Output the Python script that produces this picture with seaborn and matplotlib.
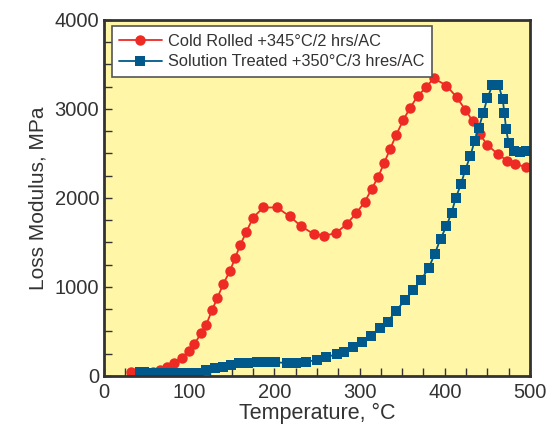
import seaborn as sns
import matplotlib.pyplot as plt
import pandas as pd
from matplotlib.ticker import MultipleLocator

# Cold Rolled +345°C/2 hrs/AC
cold_temp = [32, 41, 50, 58, 66, 74, 82, 91, 100, 106, 114, 120, 127, 133, 140, 148, 154, 160,
             167, 175, 187, 203, 218, 231, 246, 258, 272, 285, 296, 306, 314, 322, 329, 336,
             343, 351, 359, 368, 378, 387, 402, 414, 424, 433, 441, 450, 462, 473, 482, 495]
cold_loss = [40, 35, 25, 40, 65, 97, 144, 207, 285, 360, 478, 575, 745, 874, 1035, 1182, 1330, 1472,
             1618, 1779, 1893, 1893, 1794, 1685, 1595, 1577, 1603, 1708, 1828, 1955, 2097, 2240, 2397, 2553,
             2708, 2870, 3007, 3142, 3243, 3345, 3262, 3131, 2992, 2860, 2715, 2596, 2494, 2419, 2378, 2351]

# Solution Treated +350°C/3 hres/AC
sol_temp = [42, 47, 52, 57, 62, 67, 72, 77, 82, 87, 92, 97, 102, 107, 112,
            120, 130, 140, 149, 159, 169, 180, 191, 201, 215, 225, 237, 250, 261, 273,
            282, 292, 303, 313, 324, 333, 343, 353, 363, 372, 381, 388, 395, 402, 408,
            413, 419, 424, 430, 435, 440, 445, 450, 456, 463, 468, 470, 472, 475, 481, 488, 495]
sol_loss = [40, 45, 35, 30, 30, 30, 30, 30, 30, 30, 30, 30, 30, 30, 35,
            67, 86, 105, 124, 142, 150, 158, 160, 155, 145, 145, 160, 180, 210, 247,
            273, 330, 386, 453, 543, 610, 734, 850, 962, 1079, 1210, 1367, 1540, 1685, 1835,
            2004, 2154, 2315, 2472, 2640, 2790, 2951, 3120, 3270, 3270, 3108, 2951, 2771, 2614, 2531, 2520, 2531]

labels = ["Cold Rolled +345°C/2 hrs/AC", "Solution Treated +350°C/3 hres/AC"]

data = pd.concat([
    pd.DataFrame({"Temperature": cold_temp, "Loss": cold_loss, "series": labels[0]}),
    pd.DataFrame({"Temperature": sol_temp, "Loss": sol_loss, "series": labels[1]}),
], ignore_index=True)

sns.set_theme(style="ticks")
plt.rcParams['font.family'] = ['Liberation Sans', 'DejaVu Sans']

fig = plt.figure(figsize=(5.52, 4.28), dpi=100)
ax = fig.add_axes([0.1884, 0.1215, 0.7717, 0.832])
ax.set_facecolor("#fff6a8")

sns.lineplot(
    data=data, x="Temperature", y="Loss", hue="series", style="series",
    palette={labels[0]: "#ee2a24", labels[1]: "#00598a"},
    markers={labels[0]: "o", labels[1]: "s"}, dashes=False, sort=False,
    markersize=7.5, markeredgewidth=0, linewidth=1.3, ax=ax,
)

ax.set_xlim(0, 500)
ax.set_ylim(0, 4000)
ax.xaxis.set_major_locator(MultipleLocator(100))
ax.xaxis.set_minor_locator(MultipleLocator(25))
ax.yaxis.set_major_locator(MultipleLocator(1000))
ax.yaxis.set_minor_locator(MultipleLocator(250))
ax.tick_params(which="both", direction="in", colors="#333333", labelcolor="#333333",
               labelsize=14.5, width=1, length=6)
ax.tick_params(axis="x", pad=5)
for s in ax.spines.values():
    s.set_color("#333333")
    s.set_linewidth(2)

ax.set_xlabel("Temperature, °C", fontsize=15.5, color="#333333", labelpad=1)
ax.set_ylabel("Loss Modulus, MPa", fontsize=15, color="#333333", labelpad=5)

leg = ax.legend(loc="upper left", bbox_to_anchor=(0.018, 0.982), borderaxespad=0,
                fontsize=11.8, frameon=True, fancybox=False, framealpha=1,
                handlelength=2.6, handletextpad=0.4, borderpad=0.45, labelspacing=0.35)
leg.get_frame().set_edgecolor("#555555")
leg.get_frame().set_linewidth(1.2)
for t in leg.get_texts():
    t.set_color("#333333")

plt.savefig("out.png", dpi=100)
